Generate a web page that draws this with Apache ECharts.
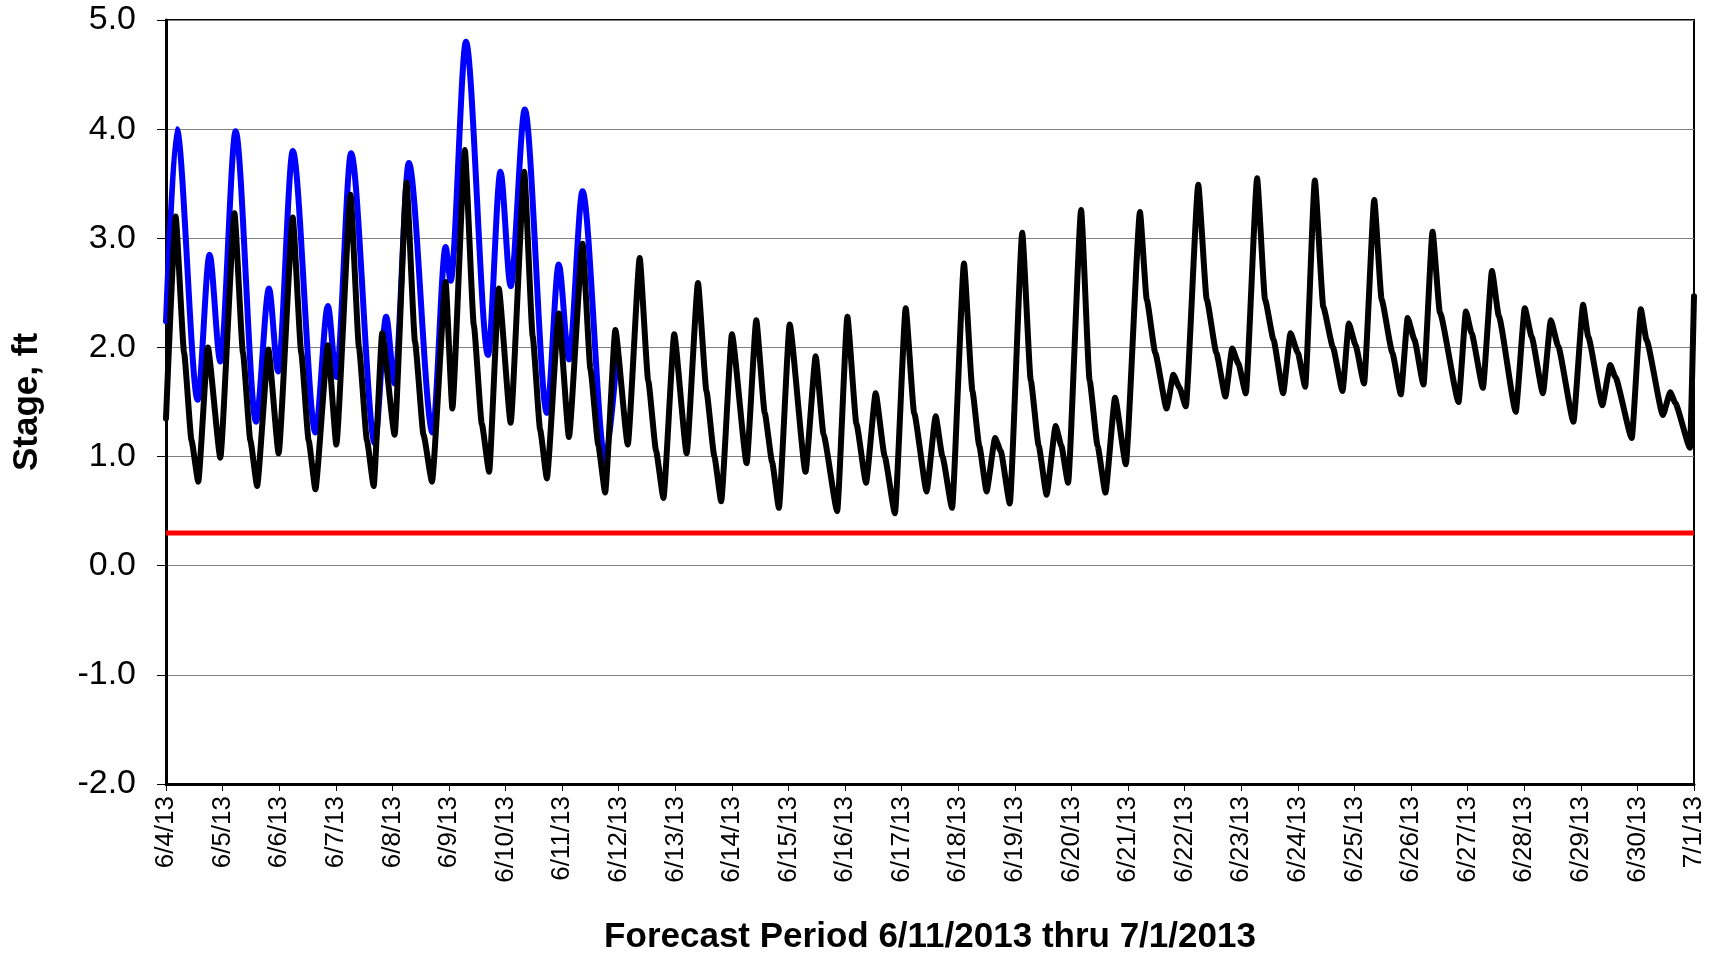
<!DOCTYPE html>
<html>
<head>
<meta charset="utf-8">
<script src="https://cdn.jsdelivr.net/npm/echarts@6/dist/echarts.min.js"></script>
<style>
  html, body { margin: 0; padding: 0; background: #fff; }
  #chart { width: 1717px; height: 961px; }
</style>
</head>
<body>
<div id="chart"></div>
<script>
// x positions are days after 6/4/13 00:00
const dateLabels = ['6/4/13', '6/5/13', '6/6/13', '6/7/13', '6/8/13', '6/9/13', '6/10/13',
  '6/11/13', '6/12/13', '6/13/13', '6/14/13', '6/15/13', '6/16/13', '6/17/13', '6/18/13',
  '6/19/13', '6/20/13', '6/21/13', '6/22/13', '6/23/13', '6/24/13', '6/25/13', '6/26/13',
  '6/27/13', '6/28/13', '6/29/13', '6/30/13', '7/1/13']

// black line - forecast stage
const blackDays = [0.00, 0.17, 0.32, 0.45, 0.57, 0.74, 0.96, 1.21, 1.36, 1.49, 1.61, 1.81, 1.99,
  2.24, 2.39, 2.52, 2.64, 2.86, 3.01, 3.26, 3.41, 3.55, 3.67, 3.82, 4.04, 4.25, 4.40, 4.55, 4.70,
  4.94, 5.06, 5.28, 5.44, 5.58, 5.71, 5.88, 6.09, 6.33, 6.48, 6.61, 6.73, 6.94, 7.12, 7.36, 7.50,
  7.64, 7.76, 7.94, 8.16, 8.37, 8.52, 8.66, 8.79, 8.98, 9.20, 9.40, 9.55, 9.69, 9.81, 10.00,
  10.26, 10.43, 10.58, 10.71, 10.83, 11.02, 11.30, 11.48, 11.62, 11.86, 12.04, 12.20, 12.37,
  12.54, 12.70, 12.88, 13.07, 13.22, 13.44, 13.60, 13.72, 13.89, 14.10, 14.25, 14.37, 14.50,
  14.65, 14.75, 14.91, 15.13, 15.28, 15.42, 15.56, 15.72, 15.82, 15.94, 16.17, 16.32, 16.46,
  16.60, 16.77, 16.96, 17.21, 17.33, 17.48, 17.68, 17.80, 17.91, 18.02, 18.24, 18.39, 18.56,
  18.72, 18.84, 18.95, 19.08, 19.28, 19.42, 19.57, 19.74, 19.87, 20.00, 20.13, 20.30, 20.45,
  20.62, 20.79, 20.90, 21.02, 21.17, 21.35, 21.48, 21.67, 21.82, 21.94, 22.06, 22.22, 22.38,
  22.51, 22.84, 22.97, 23.07, 23.27, 23.43, 23.55, 23.85, 24.01, 24.13, 24.33, 24.47, 24.60,
  24.87, 25.04, 25.13, 25.38, 25.52, 25.61, 25.90, 26.06, 26.16, 26.45, 26.58, 26.67, 26.93, 27.00]
const blackStage = [1.35, 3.20, 1.95, 1.15, 0.77, 2.00, 0.99, 3.23, 1.95, 1.15, 0.73, 1.98, 1.03,
  3.19, 1.95, 1.15, 0.70, 2.02, 1.11, 3.40, 2.00, 1.15, 0.73, 2.13, 1.20, 3.51, 2.05, 1.20, 0.77,
  2.60, 1.44, 3.81, 2.20, 1.30, 0.86, 2.54, 1.31, 3.61, 2.10, 1.25, 0.80, 2.31, 1.18, 2.95, 1.80,
  1.10, 0.67, 2.16, 1.11, 2.82, 1.70, 1.05, 0.62, 2.12, 1.03, 2.59, 1.60, 1.00, 0.59, 2.12,
  0.94, 2.25, 1.40, 0.95, 0.53, 2.21, 0.86, 1.92, 1.20, 0.50, 2.28, 1.30, 0.76,
  1.58, 1.00, 0.48, 2.36, 1.40, 0.68, 1.37, 1.00, 0.53, 2.77, 1.60, 1.10, 0.68,
  1.17, 1.05, 0.57, 3.05, 1.70, 1.10, 0.65, 1.28, 1.10, 0.76, 3.26, 1.70, 1.10,
  0.67, 1.54, 0.93, 3.24, 2.44, 1.95, 1.44, 1.75, 1.63, 1.46, 3.49, 2.44, 1.95,
  1.55, 1.99, 1.85, 1.58, 3.55, 2.44, 2.07, 1.58, 2.13, 1.95, 1.64, 3.53, 2.37,
  2.00, 1.60, 2.22, 2.02, 1.67, 3.35, 2.44, 1.95, 1.57, 2.27, 2.07, 1.66, 3.06,
  2.32, 1.50, 2.33, 2.13, 1.63, 2.70, 2.29, 1.41, 2.36, 2.10, 1.58, 2.25, 2.01,
  1.32, 2.39, 2.10, 1.47, 1.84, 1.73, 1.17, 2.35, 2.07, 1.38, 1.59, 1.49, 1.08, 2.47]

// blue line - observed stage
const blueDays = [0.00, 0.19, 0.56, 0.77, 0.96, 1.23, 1.59, 1.82, 1.98, 2.24, 2.64, 2.86, 3.01,
  3.27, 3.69, 3.89, 4.04, 4.29, 4.71, 4.94, 5.03, 5.30, 5.69, 5.91, 6.09, 6.34, 6.73, 6.94, 7.12,
  7.36, 7.76, 7.96]
const blueStage = [2.24, 4.00, 1.52, 2.85, 1.87, 3.98, 1.32, 2.54, 1.78, 3.80, 1.22, 2.38, 1.73,
  3.78, 1.12, 2.28, 1.67, 3.69, 1.22, 2.92, 2.61, 4.80, 1.93, 3.61, 2.56, 4.18, 1.40, 2.76, 1.89,
  3.43, 0.96, 1.89]

// red line - constant reference stage
const redLevel = 0.3

const pairs = (xs, ys) => xs.map((x, i) => [x, ys[i]])

const chart = echarts.init(document.getElementById('chart'), null, { renderer: 'canvas' })
const font = "'Liberation Sans', Arial, sans-serif"

const option = {
  animation: false,
  backgroundColor: '#fff',
  grid: {
    left: 166, right: 23, top: 20, bottom: 177,
    outerBoundsMode: 'none', containLabel: false,
    show: true, borderColor: '#000', borderWidth: 2
  },
  xAxis: {
    type: 'value',
    min: 0, max: 27, interval: 1,
    name: 'Forecast Period 6/11/2013 thru 7/1/2013',
    nameLocation: 'middle',
    nameGap: 136,
    nameTextStyle: { fontFamily: font, fontSize: 35, fontWeight: 'bold', color: '#000' },
    axisLine: { onZero: false, lineStyle: { color: '#000', width: 3 } },
    axisTick: { show: true, length: 7, lineStyle: { color: '#000', width: 1 } },
    axisLabel: {
      rotate: 90, margin: 12, fontFamily: font, fontSize: 26, color: '#000',
      formatter: v => dateLabels[Math.round(v)]
    },
    splitLine: { show: false }
  },
  yAxis: {
    type: 'value',
    min: -2, max: 5, interval: 1,
    name: 'Stage, ft',
    nameLocation: 'middle',
    nameGap: 121,
    nameTextStyle: { fontFamily: font, fontSize: 35, fontWeight: 'bold', color: '#000' },
    axisLine: { onZero: false, lineStyle: { color: '#000', width: 3 } },
    axisTick: { show: true, length: 9, lineStyle: { color: '#000', width: 1 } },
    axisLabel: {
      margin: 30, fontFamily: font, fontSize: 34, color: '#000',
      formatter: v => v.toFixed(1)
    },
    splitLine: { lineStyle: { color: '#808080', width: 1 } }
  },
  series: [
    {
      name: 'Observed', type: 'line',
      data: pairs(blueDays, blueStage),
      showSymbol: false, smooth: 0.3, smoothMonotone: 'x',
      lineStyle: { color: '#0000ff', width: 6, join: 'round', cap: 'round' },
      z: 2
    },
    {
      name: 'Forecast', type: 'line',
      data: pairs(blackDays, blackStage),
      showSymbol: false, smooth: 0.15, smoothMonotone: 'x',
      lineStyle: { color: '#000', width: 6, join: 'round', cap: 'round' },
      z: 3
    },
    {
      name: 'Reference', type: 'line',
      data: [[0, redLevel], [27, redLevel]],
      showSymbol: false,
      lineStyle: { color: '#ff0000', width: 5 },
      z: 4
    }
  ]
}
chart.setOption(option)
</script>
</body>
</html>
